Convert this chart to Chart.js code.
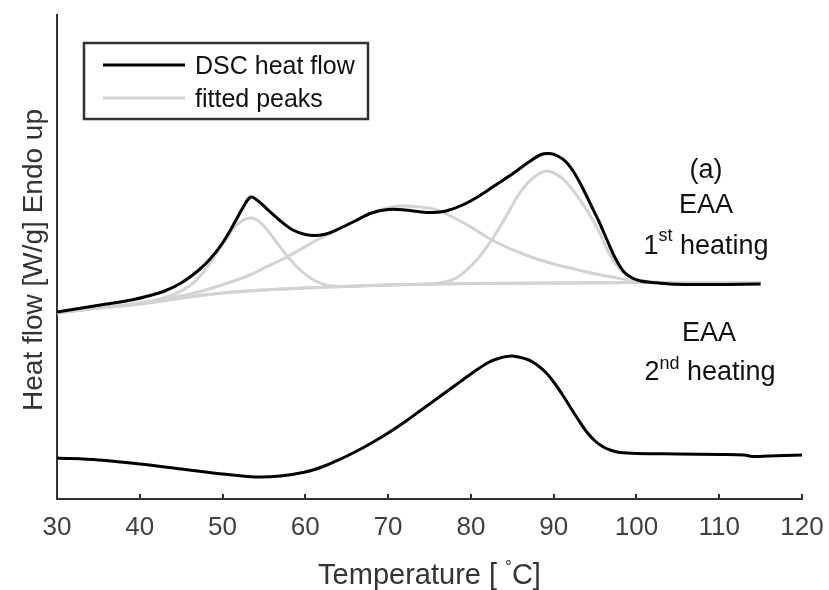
<!DOCTYPE html>
<html>
<head>
<meta charset="utf-8">
<script src="https://cdn.jsdelivr.net/npm/chart.js@4.4.0/dist/chart.umd.min.js"></script>
<style>
html, body { margin: 0; padding: 0; background: #fff; }
</style>
</head>
<body>
<canvas id="myChart" width="829" height="590"></canvas>
<script>
// heat flow curves, offset for display (arbitrary units, no y ticks)
var xTicks = [30, 40, 50, 60, 70, 80, 90, 100, 110, 120];

var t1st = [30, 33, 36, 39, 41, 43, 45, 47, 48.5, 50, 51.5, 52.5, 53.4, 54.3, 55.5, 57, 58.5, 60, 61.3, 62.5, 64, 66, 68, 70, 72, 74, 75.5, 77, 79, 81, 83, 85, 87, 88.5, 89.5, 90.5, 91.5, 92.5, 93.5, 94.5, 95.5, 96.5, 97.5, 98.5, 99.5, 100.5, 102, 104, 107, 111, 115];
var dsc1st = [1.87, 1.91, 1.95, 1.99, 2.03, 2.08, 2.16, 2.28, 2.40, 2.56, 2.77, 2.92, 3.02, 2.98, 2.89, 2.78, 2.69, 2.645, 2.635, 2.65, 2.70, 2.78, 2.86, 2.895, 2.89, 2.87, 2.865, 2.88, 2.94, 3.03, 3.14, 3.25, 3.37, 3.445, 3.455, 3.43, 3.37, 3.26, 3.11, 2.94, 2.77, 2.58, 2.40, 2.27, 2.21, 2.18, 2.165, 2.15, 2.145, 2.145, 2.15];

var tBase = [30, 35, 40, 45, 50, 55, 60, 65, 70, 80, 90, 100, 110, 115];
var base = [1.86, 1.91, 1.95, 2.01, 2.06, 2.09, 2.11, 2.125, 2.14, 2.155, 2.16, 2.165, 2.165, 2.165];

var tPk1 = [30, 35, 40, 42, 44, 46, 47.5, 49, 50.5, 51.5, 52.5, 53.3, 54.2, 55.2, 56.5, 58, 59.5, 61, 62.5, 64, 66, 70, 80, 90, 100, 115];
var pk1 = [1.86, 1.91, 1.95, 1.99, 2.04, 2.13, 2.25, 2.42, 2.61, 2.72, 2.79, 2.81, 2.79, 2.71, 2.57, 2.41, 2.28, 2.19, 2.14, 2.125, 2.13, 2.14, 2.155, 2.16, 2.165, 2.165];

var tPk2 = [30, 35, 40, 45, 48, 51, 53.3, 55, 57.3, 59.5, 61.4, 63.3, 65.5, 67.4, 69.4, 71.5, 73.8, 75.9, 77.8, 80, 81.9, 84, 86, 88, 90, 92, 94, 96, 98, 100, 102, 110, 115];
var pk2 = [1.86, 1.91, 1.96, 2.03, 2.09, 2.17, 2.24, 2.31, 2.40, 2.50, 2.59, 2.67, 2.76, 2.84, 2.90, 2.93, 2.92, 2.89, 2.82, 2.72, 2.62, 2.53, 2.46, 2.40, 2.35, 2.31, 2.27, 2.235, 2.205, 2.18, 2.165, 2.165, 2.165];

var tPk3 = [30, 35, 40, 50, 60, 70, 75, 76.5, 78, 79.5, 81, 82.5, 84, 85.9, 87.5, 89.2, 91, 92.3, 94, 95.5, 96.5, 97.5, 98.5, 99.5, 100.5, 102, 104, 110, 115];
var pk3 = [1.86, 1.91, 1.95, 2.06, 2.11, 2.14, 2.15, 2.165, 2.20, 2.29, 2.42, 2.59, 2.79, 3.06, 3.21, 3.28, 3.21, 3.09, 2.89, 2.67, 2.49, 2.35, 2.26, 2.21, 2.185, 2.17, 2.165, 2.165, 2.165];

var t2nd = [30, 35, 40, 45, 50, 54, 57, 60, 62, 64, 66, 68, 70, 72, 74, 76, 78, 80, 82, 83.5, 85, 87, 88, 89, 90, 91, 92, 93, 94, 95, 96, 97, 98, 100, 105, 110, 113, 114, 116, 120];
var dsc2nd = [0.41, 0.39, 0.35, 0.30, 0.25, 0.22, 0.23, 0.27, 0.32, 0.39, 0.47, 0.56, 0.66, 0.77, 0.89, 1.01, 1.13, 1.25, 1.36, 1.41, 1.43, 1.39, 1.34, 1.27, 1.17, 1.05, 0.92, 0.79, 0.67, 0.58, 0.52, 0.485, 0.465, 0.455, 0.45, 0.445, 0.44, 0.425, 0.43, 0.44];

var legendLabels = ['DSC heat flow', 'fitted peaks'];

var FONT = '"Liberation Sans", Arial, sans-serif';
var BLACK = '#000000';
var GREY = '#d3d3d3';

function pts(xs, ys) {
    return xs.map(function (x, i) { return { x: x, y: ys[i] }; });
}

function lineSet(label, xs, ys, color) {
    return {
        label: label,
        data: pts(xs, ys),
        borderColor: color,
        borderWidth: 3,
        pointRadius: 0,
        fill: false,
        tension: 0.35
    };
}

// draws text pieces (for superscripts) centred on cx, sitting on baseline y
function drawParts(ctx, parts, cx, y) {
    let total = 0;
    parts.forEach(function (p) {
        ctx.font = p[1] + 'px ' + FONT;
        total += ctx.measureText(p[0]).width;
    });
    let x = cx - total / 2;
    parts.forEach(function (p) {
        ctx.font = p[1] + 'px ' + FONT;
        ctx.fillText(p[0], x, y - p[2]);
        x += ctx.measureText(p[0]).width;
    });
}

var extras = {
    id: 'extras',
    afterDraw: function (chart) {
        const ctx = chart.ctx;
        const area = chart.chartArea;
        const xs = chart.scales.x;
        const ys = chart.scales.y;
        ctx.save();

        // inward tick marks
        ctx.strokeStyle = '#333333';
        ctx.lineWidth = 2;
        xTicks.forEach(function (v) {
            const px = Math.round(xs.getPixelForValue(v));
            ctx.beginPath();
            ctx.moveTo(px, area.bottom);
            ctx.lineTo(px, area.bottom - 5);
            ctx.stroke();
        });

        ctx.textAlign = 'left';
        ctx.textBaseline = 'alphabetic';

        // axis titles
        ctx.fillStyle = '#333333';
        drawParts(ctx, [['Temperature [ ', 29, 0], ['\u00b0', 17, 12], ['C]', 29, 0]], (area.left + area.right) / 2, 584);
        ctx.save();
        ctx.translate(42, (area.top + area.bottom) / 2 + 3);
        ctx.rotate(-Math.PI / 2);
        drawParts(ctx, [['Heat flow [W/g] Endo up', 28, 0]], 0, 0);
        ctx.restore();

        // curve annotations
        ctx.fillStyle = '#111111';
        const ax = xs.getPixelForValue(108.4);
        drawParts(ctx, [['(a)', 27, 0]], ax, ys.getPixelForValue(3.21));
        drawParts(ctx, [['EAA', 27, 0]], ax, ys.getPixelForValue(2.86));
        drawParts(ctx, [['1', 27, 0], ['st', 18, 13], [' heating', 27, 0]], ax, ys.getPixelForValue(2.45));
        drawParts(ctx, [['EAA', 27, 0]], ax + 3, ys.getPixelForValue(1.58));
        drawParts(ctx, [['2', 27, 0], ['nd', 18, 11], [' heating', 27, 0]], ax + 4, ys.getPixelForValue(1.19));

        // legend box
        const bx = area.left + 27;
        const by = area.top + 28;
        ctx.fillStyle = '#ffffff';
        ctx.fillRect(bx, by, 284, 76);
        ctx.strokeStyle = '#333333';
        ctx.lineWidth = 2.5;
        ctx.strokeRect(bx, by, 284, 76);
        const cols = [BLACK, GREY];
        const rows = [by + 22, by + 55];
        ctx.font = '25px ' + FONT;
        for (let i = 0; i < legendLabels.length; i++) {
            ctx.strokeStyle = cols[i];
            ctx.lineWidth = 3;
            ctx.beginPath();
            ctx.moveTo(bx + 19, rows[i]);
            ctx.lineTo(bx + 101, rows[i]);
            ctx.stroke();
            ctx.fillStyle = '#111111';
            ctx.fillText(legendLabels[i], bx + 111, rows[i] + 9);
        }
        ctx.restore();
    }
};

var ctx = document.getElementById('myChart');
var myChart = new Chart(ctx, {
    type: 'line',
    data: {
        datasets: [
            lineSet('DSC heat flow', t1st, dsc1st, BLACK),
            lineSet('DSC 2nd heating', t2nd, dsc2nd, BLACK),
            lineSet('baseline', tBase, base, GREY),
            lineSet('peak 1', tPk1, pk1, GREY),
            lineSet('peak 2', tPk2, pk2, GREY),
            lineSet('peak 3', tPk3, pk3, GREY)
        ]
    },
    options: {
        responsive: false,
        animation: false,
        devicePixelRatio: 1,
        layout: { padding: { top: 15, right: 27, left: 0, bottom: 0 } },
        plugins: {
            legend: { display: false },
            tooltip: { enabled: false }
        },
        scales: {
            x: {
                type: 'linear',
                min: 30,
                max: 120,
                afterFit: function (scale) {
                    scale.height = 91;
                    scale.paddingLeft = 0;
                    scale.paddingRight = 0;
                },
                afterBuildTicks: function (scale) {
                    scale.ticks = xTicks.map(function (v) { return { value: v }; });
                },
                ticks: {
                    color: '#404040',
                    font: { family: FONT, size: 26 },
                    padding: 13,
                    maxRotation: 0
                },
                grid: { display: true, drawOnChartArea: false, drawTicks: false },
                border: { display: true, color: '#333333', width: 2 }
            },
            y: {
                min: 0,
                max: 4.84,
                afterFit: function (scale) { scale.width = 57; },
                ticks: { display: false },
                grid: { display: true, drawOnChartArea: false, drawTicks: false },
                border: { display: true, color: '#333333', width: 2 }
            }
        }
    },
    plugins: [extras]
});
</script>
</body>
</html>
